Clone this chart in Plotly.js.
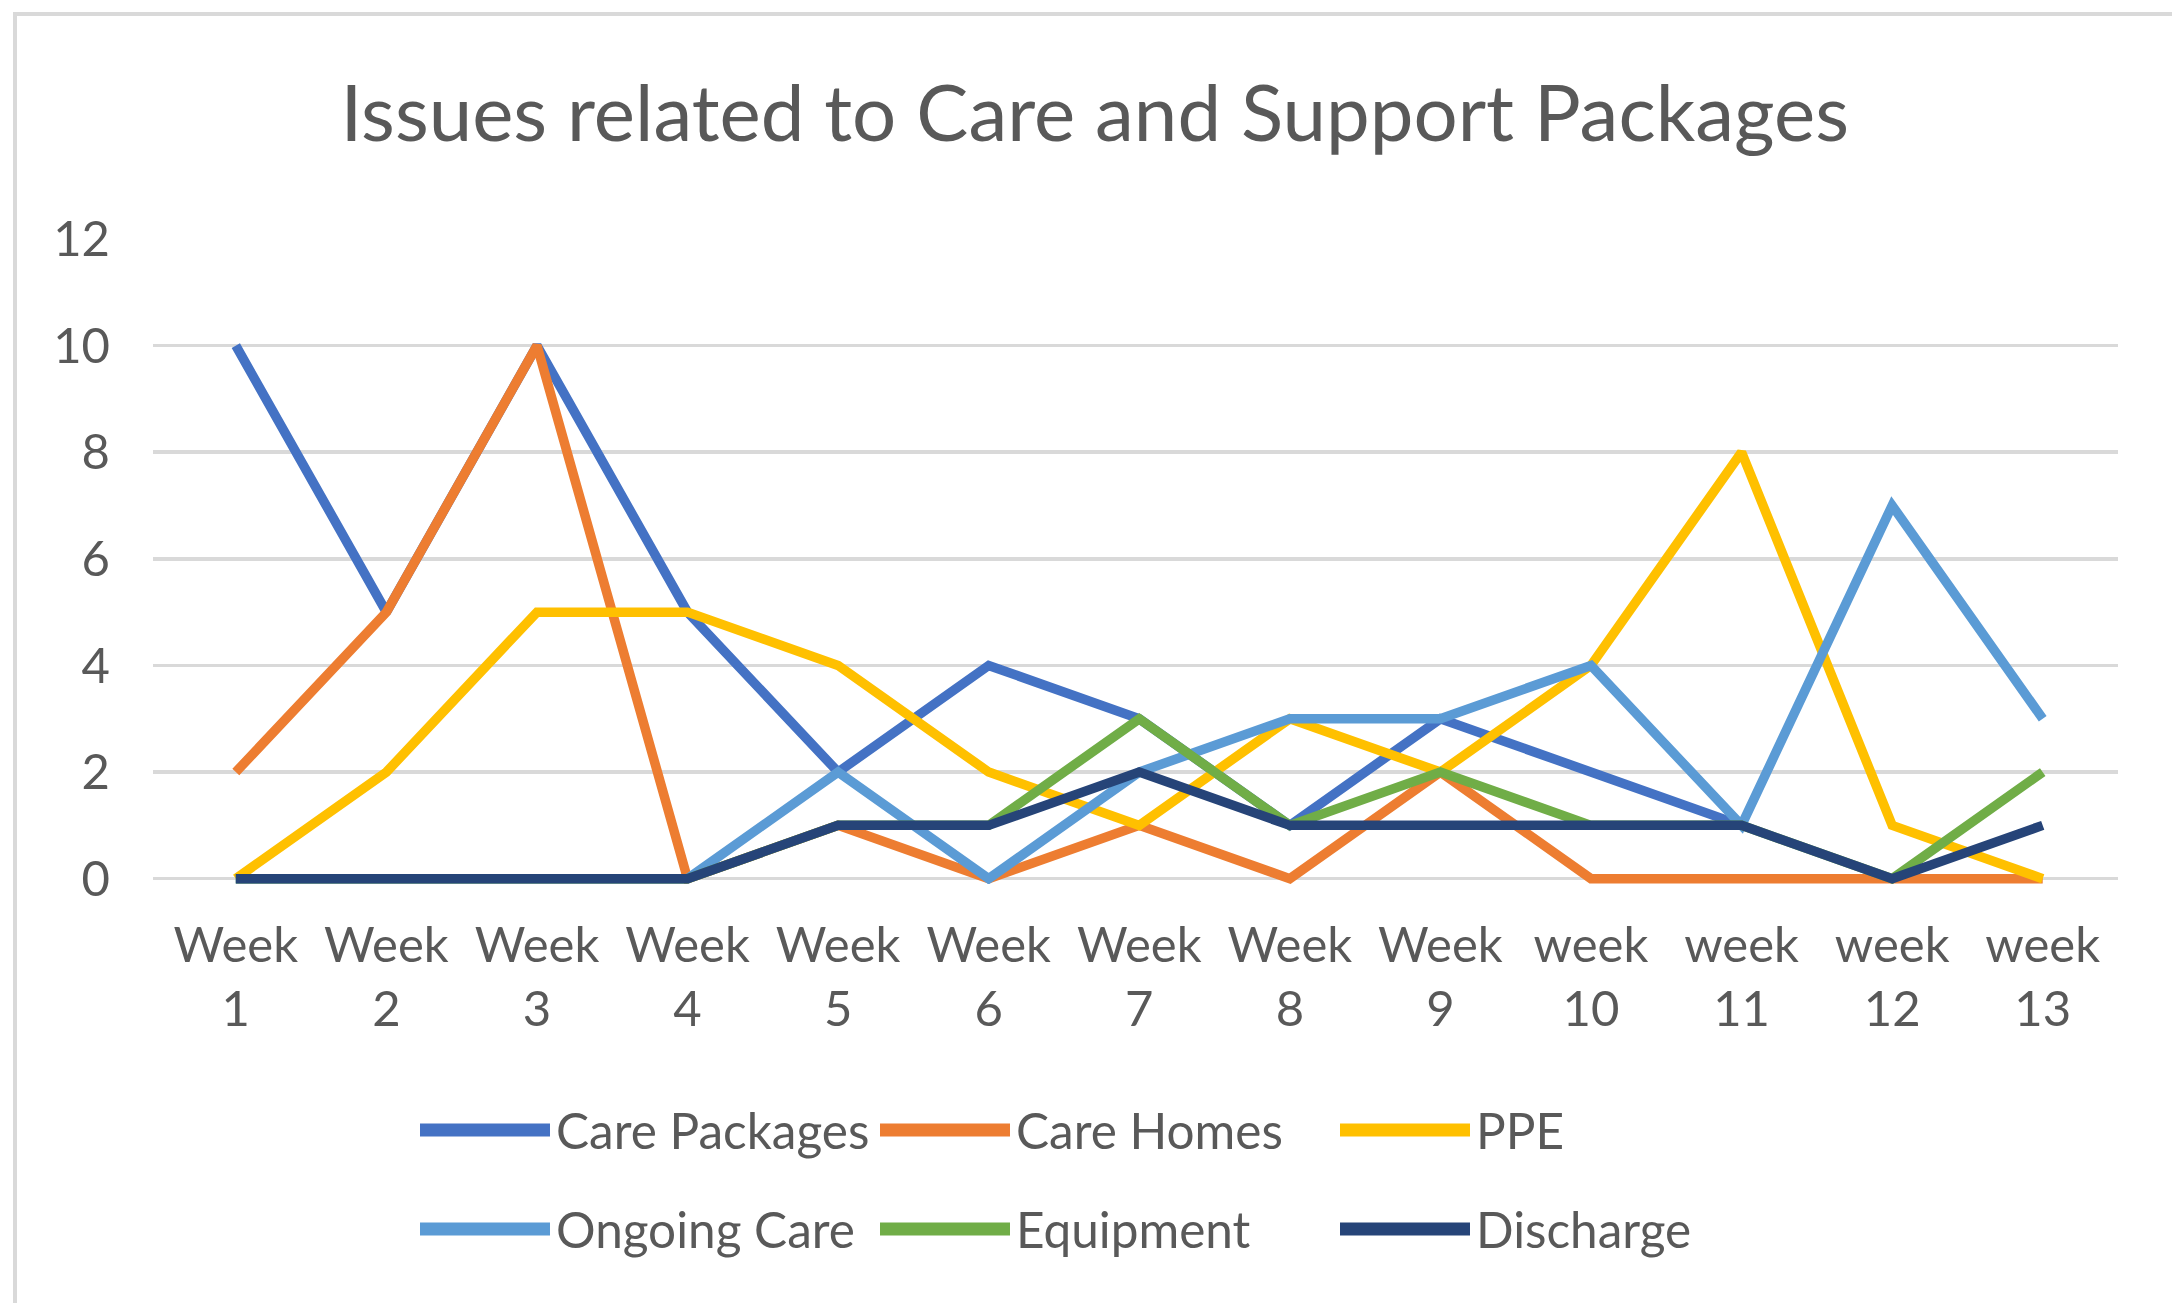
<!DOCTYPE html>
<html>
<head>
<meta charset="utf-8">
<script src="https://cdn.plot.ly/plotly-3.0.1.min.js"></script>
<style>html,body{margin:0;padding:0;background:#fff;}#chart{width:2172px;height:1303px;}</style>
</head>
<body>
<div id="chart"></div>
<script>
// ---- data ----
const weeks = ["Week 1","Week 2","Week 3","Week 4","Week 5","Week 6","Week 7","Week 8","Week 9","week 10","week 11","week 12","week 13"];
const seriesNames = ["Care Packages","Care Homes","PPE","Ongoing Care","Equipment","Discharge"];
const carePackages = [10,5,10,5,2,4,3,1,3,2,1,null,null];
const careHomes    = [2,5,10,0,1,0,1,0,2,0,0,0,0];
const ppe          = [0,2,5,5,4,2,1,3,2,4,8,1,0];
const ongoingCare  = [0,0,0,0,2,0,2,3,3,4,1,7,3];
const equipment    = [0,0,0,0,1,1,3,1,2,1,1,0,2];
const discharge    = [0,0,0,0,1,1,2,1,1,1,1,0,1];
const yTicks = [0,2,4,6,8,10,12];

const seriesValues = [carePackages, careHomes, ppe, ongoingCare, equipment, discharge];
const colors = ["#4472C4","#ED7D31","#FFC000","#5B9BD5","#70AD47","#264478"];
const textColor = "#595959";
const FONT = "Lato, 'Open Sans', sans-serif";

const traces = seriesNames.map((name, i) => ({
  type: "scatter",
  mode: "lines",
  name: name,
  x: weeks,
  y: seriesValues[i],
  line: {color: colors[i], width: 9.5},
  connectgaps: false,
  showlegend: false,
  hoverinfo: "x+y+name"
}));

// layout geometry (pixels)
const W = 2172, H = 1303;
const L = 153, R = 54, T = 239, B = 419;
const plotW = W - L - R, plotH = H - T - B;
const px2x = p => (p - L) / plotW;
const py2y = p => (H - B - p) / plotH;

// custom legend (Excel style: long line swatches)
const legendCols = [420, 880, 1340];
const legendRows = [1130, 1229];
const shapes = [];
const annotations = [];
seriesNames.forEach((name, i) => {
  const cx = legendCols[i % 3], cy = legendRows[Math.floor(i / 3)];
  shapes.push({type: "line", xref: "paper", yref: "paper",
    x0: px2x(cx), x1: px2x(cx + 130), y0: py2y(cy), y1: py2y(cy),
    line: {color: colors[i], width: 13}});
  annotations.push({xref: "paper", yref: "paper", x: px2x(cx + 134), y: py2y(cy),
    xanchor: "left", yanchor: "middle", showarrow: false, text: name,
    font: {family: FONT, size: 49.5, color: textColor}});
});
// chart area border (partially visible)
shapes.push({type: "rect", xref: "paper", yref: "paper",
  x0: px2x(15), x1: px2x(2230), y0: py2y(1360), y1: py2y(14),
  line: {color: "#D9D9D9", width: 4}, fillcolor: "rgba(0,0,0,0)", layer: "below"});

const layout = {
  width: W, height: H,
  margin: {l: L, r: R, t: T, b: B, pad: 0},
  paper_bgcolor: "#ffffff",
  plot_bgcolor: "#ffffff",
  title: {text: "Issues related to Care and Support Packages",
    font: {family: FONT, size: 78, color: textColor},
    x: 0.504, xref: "container", xanchor: "center",
    y: 1 - 114 / H, yref: "container", yanchor: "middle"},
  xaxis: {
    type: "category",
    range: [-0.55, 12.5],
    tickmode: "array",
    tickvals: weeks,
    ticktext: weeks.map(w => w.replace(" ", "<br>")),
    tickfont: {family: FONT, size: 49, color: textColor},
    showgrid: false, zeroline: false, showline: false, ticks: "",
    ticklabelstandoff: 28,
    fixedrange: true
  },
  yaxis: {
    range: [-0.1, 12],
    tickmode: "array",
    tickvals: yTicks,
    ticktext: yTicks.map(String),
    tickfont: {family: FONT, size: 49, color: textColor},
    showgrid: true, gridcolor: "#D9D9D9", gridwidth: 3.5,
    zeroline: false, showline: false, ticks: "",
    ticklabelstandoff: 42,
    fixedrange: true
  },
  showlegend: false,
  shapes: shapes,
  annotations: annotations
};

Plotly.newPlot("chart", traces, layout, {displayModeBar: false, staticPlot: true});
</script>
</body>
</html>
